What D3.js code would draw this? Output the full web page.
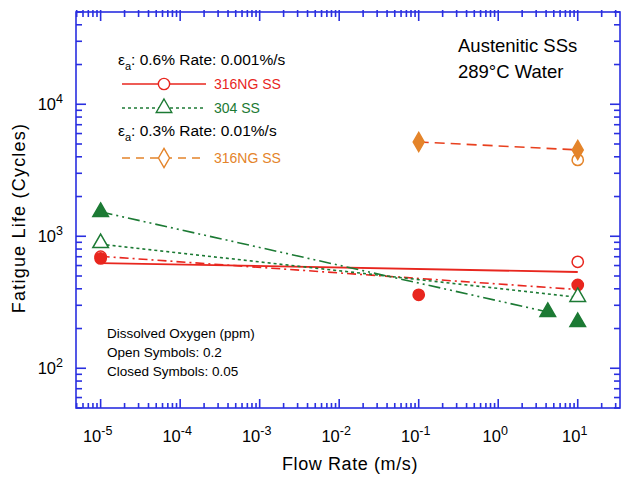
<!DOCTYPE html>
<html>
<head>
<meta charset="utf-8">
<script src="https://cdn.jsdelivr.net/npm/d3@7"></script>
<style>
body { margin:0; background:#fff; }
text { font-family: "Liberation Sans", Arial, sans-serif; }
</style>
</head>
<body>
<div id="chart"></div>
<script>
// data
var xDecades = [-5, -4, -3, -2, -1, 0, 1];
var yDecades = [2, 3, 4];

// 316NG SS, strain 0.6%, rate 0.001%/s
var ng316OpenX = [1e-5, 10];
var ng316OpenY = [700, 640];
var ng316ClosedX = [1e-5, 0.1, 10];
var ng316ClosedY = [680, 360, 428];
var ng316OpenFitX = [1e-5, 10];
var ng316OpenFitY = [627, 536];
var ng316ClosedFitX = [1e-5, 10];
var ng316ClosedFitY = [705, 395];

// 304 SS
var ss304OpenX = [1e-5, 10];
var ss304OpenY = [889, 347];
var ss304ClosedX = [1e-5, 4.2, 10];
var ss304ClosedY = [1530, 267, 224];
var ss304OpenFitX = [1e-5, 10];
var ss304OpenFitY = [870, 345];
var ss304ClosedFitX = [1e-5, 4.2];
var ss304ClosedFitY = [1530, 267];

// 316NG SS, strain 0.3%, rate 0.01%/s
var ng316bClosedX = [0.1, 10];
var ng316bClosedY = [5180, 4510];
var ng316bOpenX = [10];
var ng316bOpenY = [3790];

var W = 630, H = 477;
var margin = {top:12, right:10, bottom:69, left:76};
var red = '#e8261e', green = '#1c7a34', orange = '#e4842a', blue = '#2a2fe0';

var svg = d3.select('#chart').append('svg')
    .attr('width', W).attr('height', H);

var x = d3.scaleLog().domain([4.9e-6, 34]).range([margin.left, W - margin.right]);
var y = d3.scaleLog().domain([50, 50000]).range([H - margin.bottom, margin.top]);

var x0 = margin.left, x1 = W - margin.right, y0 = H - margin.bottom, y1 = margin.top;

function minorTicks(dom) {
    var out = [];
    var lo = Math.floor(Math.log10(dom[0])), hi = Math.ceil(Math.log10(dom[1]));
    for (var e = lo; e <= hi; e++) {
        for (var m = 1; m < 10; m++) {
            var v = m * Math.pow(10, e);
            if (v >= dom[0] && v <= dom[1]) out.push(v);
        }
    }
    return out;
}

var xt = minorTicks(x.domain()), yt = minorTicks(y.domain());
function isMajor(v) { return Math.abs(Math.log10(v) - Math.round(Math.log10(v))) < 1e-9; }

var ax = svg.append('g').attr('stroke', blue).attr('stroke-width', 1.6);
// frame
ax.append('rect').attr('x', x0).attr('y', y1).attr('width', x1 - x0).attr('height', y0 - y1)
    .attr('fill', 'none');

// x ticks bottom and top, inward
ax.selectAll('.xb').data(xt).enter().append('line')
    .attr('x1', function(d){return x(d);}).attr('x2', function(d){return x(d);})
    .attr('y1', y0).attr('y2', function(d){return y0 - (isMajor(d) ? 9 : 5);});
ax.selectAll('.xtop').data(xt).enter().append('line')
    .attr('x1', function(d){return x(d);}).attr('x2', function(d){return x(d);})
    .attr('y1', y1 - 2).attr('y2', function(d){return y1 + (isMajor(d) ? 9 : 5);});
// y ticks left and right
ax.selectAll('.yl').data(yt).enter().append('line')
    .attr('y1', function(d){return y(d);}).attr('y2', function(d){return y(d);})
    .attr('x1', x0).attr('x2', function(d){return x0 + (isMajor(d) ? 10 : 6);});
ax.selectAll('.yr').data(yt).enter().append('line')
    .attr('y1', function(d){return y(d);}).attr('y2', function(d){return y(d);})
    .attr('x1', x1).attr('x2', function(d){return x1 - (isMajor(d) ? 10 : 6);});

// tick labels
var xl = svg.append('g').selectAll('text').data(xDecades).enter().append('text')
    .attr('x', function(d){return x(Math.pow(10, d)) - 3;})
    .attr('y', y0 + 34)
    .attr('text-anchor', 'middle')
    .attr('font-size', 16.5);
xl.append('tspan').text('10');
xl.append('tspan').attr('dy', -7).attr('font-size', 12.5).text(function(d){return d;});

var yl = svg.append('g').selectAll('text').data(yDecades).enter().append('text')
    .attr('x', x0 - 13)
    .attr('y', function(d){return y(Math.pow(10, d)) + 6;})
    .attr('text-anchor', 'end')
    .attr('font-size', 16.5);
yl.append('tspan').text('10');
yl.append('tspan').attr('dy', -7).attr('font-size', 12.5).text(function(d){return d;});

// axis titles
svg.append('text').attr('x', (x0 + x1) / 2 + 2).attr('y', 470)
    .attr('text-anchor', 'middle').attr('font-size', 18).attr('letter-spacing', 0.6)
    .text('Flow Rate (m/s)');
svg.append('text').attr('transform', 'translate(25,' + ((y0 + y1) / 2 + 8) + ') rotate(-90)')
    .attr('text-anchor', 'middle').attr('font-size', 18).attr('letter-spacing', 1.2)
    .text('Fatigue Life (Cycles)');

var line = d3.line().x(function(d){return x(d[0]);}).y(function(d){return y(d[1]);});
var zip = function(a, b){ return a.map(function(v, i){ return [v, b[i]]; }); };

var plot = svg.append('g');
function drawFit(xs, ys, color, dash, width) {
    plot.append('path').datum(zip(xs, ys))
        .attr('fill', 'none').attr('stroke', color)
        .attr('stroke-width', width || 1.6)
        .attr('stroke-dasharray', dash)
        .attr('d', line);
}
drawFit(ng316OpenFitX, ng316OpenFitY, red, null, 1.8);
drawFit(ng316ClosedFitX, ng316ClosedFitY, red, '9,4,2,4');
drawFit(ss304OpenFitX, ss304OpenFitY, green, '3,3');
drawFit(ss304ClosedFitX, ss304ClosedFitY, green, '12,4,2,4,2,4');
drawFit(ng316bClosedX, ng316bClosedY, '#e8401e', '10,6');

var sym = {
    circle: d3.symbol().type(d3.symbolCircle).size(100),
    triangle: d3.symbol().type(d3.symbolTriangle).size(105),
    diamond: d3.symbol().type(d3.symbolDiamond).size(105)
};
function drawPoints(xs, ys, shape, color, filled) {
    plot.append('g').selectAll('path').data(zip(xs, ys)).enter().append('path')
        .attr('transform', function(d){return 'translate(' + x(d[0]) + ',' + y(d[1]) + ')';})
        .attr('d', sym[shape])
        .attr('fill', filled ? color : '#fff')
        .attr('stroke', color).attr('stroke-width', 1.5);
}
drawPoints(ng316OpenX, ng316OpenY, 'circle', red, false);
drawPoints(ng316ClosedX, ng316ClosedY, 'circle', red, true);
drawPoints(ss304OpenX, ss304OpenY, 'triangle', green, false);
drawPoints(ss304ClosedX, ss304ClosedY, 'triangle', green, true);
drawPoints(ng316bOpenX, ng316bOpenY, 'circle', orange, false);
drawPoints(ng316bClosedX, ng316bClosedY, 'diamond', orange, true);

// legend
var lg = svg.append('g').attr('font-size', 14);
function epsHeader(yy, txt) {
    var t = lg.append('text').attr('x', 118).attr('y', yy).attr('font-size', 15.5);
    t.append('tspan').text('ε');
    t.append('tspan').attr('dy', 5).attr('font-size', 11).text('a');
    t.append('tspan').attr('dy', -5).text(txt);
}
function legRow(yy, color, dash, shape, label) {
    lg.append('line').attr('x1', 122).attr('x2', 206).attr('y1', yy).attr('y2', yy)
        .attr('stroke', color).attr('stroke-width', 1.5).attr('stroke-dasharray', dash);
    lg.append('path').attr('transform', 'translate(164,' + yy + ')')
        .attr('d', sym[shape]).attr('fill', '#fff').attr('stroke', color).attr('stroke-width', 1.4);
    lg.append('text').attr('x', 214).attr('y', yy + 5).attr('fill', color).text(label);
}
epsHeader(65, ': 0.6% Rate: 0.001%/s');
legRow(84, red, null, 'circle', '316NG SS');
legRow(108, green, '3,3', 'triangle', '304 SS');
epsHeader(136, ': 0.3% Rate: 0.01%/s');
legRow(158, orange, '8,6', 'diamond', '316NG SS');

// annotations
var an = svg.append('g').attr('font-size', 18.5);
an.append('text').attr('x', 458).attr('y', 52).text('Austenitic SSs');
an.append('text').attr('x', 458).attr('y', 78).text('289°C Water');

var dn = svg.append('g').attr('font-size', 13.5);
dn.append('text').attr('x', 107).attr('y', 338).text('Dissolved Oxygen (ppm)');
dn.append('text').attr('x', 107).attr('y', 357).text('Open Symbols: 0.2');
dn.append('text').attr('x', 107).attr('y', 376).text('Closed Symbols: 0.05');
</script>
</body>
</html>
